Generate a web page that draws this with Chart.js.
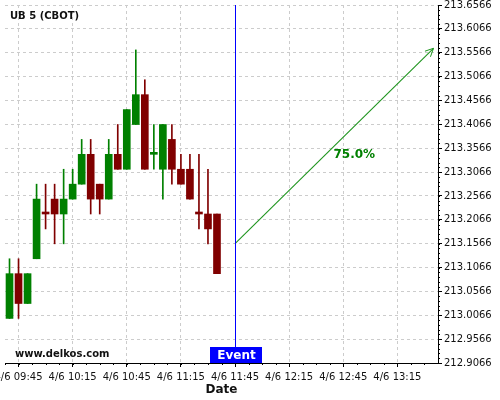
<!DOCTYPE html>
<html>
<head>
<meta charset="utf-8">
<script src="https://cdn.jsdelivr.net/npm/chart.js@4"></script>
<style>
  html, body { margin: 0; padding: 0; background: #fff; }
  #wrap { width: 500px; height: 400px; }
</style>
</head>
<body>
<div id="wrap"><canvas id="chart" width="500" height="400"></canvas></div>
<script>
// 5 min candles, 4/6
const candleTimes = ['09:40','09:45','09:50','09:55','10:00','10:05','10:10','10:15','10:20','10:25','10:30','10:35',
                     '10:40','10:45','10:50','10:55','11:00','11:05','11:10','11:15','11:20','11:25','11:30','11:35'];
const opens  = [213.0, 213.09375, 213.03125, 213.125, 213.21875, 213.25, 213.21875, 213.25, 213.28125, 213.34375, 213.28125, 213.25,
                213.34375, 213.3125, 213.40625, 213.46875, 213.34375, 213.3125, 213.375, 213.3125, 213.3125, 213.21875, 213.21875, 213.21875];
const highs  = [213.125, 213.125, 213.09375, 213.28125, 213.28125, 213.28125, 213.3125, 213.3125, 213.375, 213.375, 213.28125, 213.375,
                213.40625, 213.4375, 213.5625, 213.5, 213.40625, 213.40625, 213.40625, 213.34375, 213.34375, 213.34375, 213.3125, 213.21875];
const lows   = [213.0, 213.0, 213.03125, 213.125, 213.1875, 213.15625, 213.15625, 213.25, 213.28125, 213.21875, 213.21875, 213.25,
                213.3125, 213.3125, 213.40625, 213.3125, 213.3125, 213.25, 213.28125, 213.28125, 213.25, 213.1875, 213.15625, 213.09375];
const closes = [213.09375, 213.03125, 213.09375, 213.25, 213.21875, 213.21875, 213.25, 213.28125, 213.34375, 213.25, 213.25, 213.34375,
                213.3125, 213.4375, 213.46875, 213.3125, 213.34375, 213.40625, 213.3125, 213.28125, 213.25, 213.21875, 213.1875, 213.09375];

// projection
const eventTime = '11:45';
const arrowTimes = ['11:45', '13:35'];
const arrowPrices = [213.1566, 213.5659];
const arrowLabel = '75.0%';

// axes
const xRange = ['09:37:30', '13:37:30'];
const xTickTimes = ['09:45','10:15','10:45','11:15','11:45','12:15','12:45','13:15'];
const yTicks = [212.9066, 212.9566, 213.0066, 213.0566, 213.1066, 213.1566, 213.2066, 213.2566,
                213.3066, 213.3566, 213.4066, 213.4566, 213.5066, 213.5566, 213.6066, 213.6566];

const GREEN = '#008000';
const RED = '#800000';
const ARROW = '#1e941e';

function toMin(t) {
  const p = t.split(':').map(Number);
  return p[0] * 60 + p[1] + (p[2] || 0) / 60;
}
function fmtMin(m) {
  const h = Math.floor(m / 60), mm = Math.round(m % 60);
  return String(h).padStart(2, '0') + ':' + String(mm).padStart(2, '0');
}

const candleColors = closes.map((c, i) => {
  if (c > opens[i]) return GREEN;
  if (c < opens[i]) return RED;
  return (i > 0 && c < closes[i - 1]) ? RED : GREEN;
});

const bodies = candleTimes.map((t, i) => ({ x: toMin(t), y: [opens[i], closes[i]] }));
const wicks = candleTimes.map((t, i) => ({ x: toMin(t), y: [lows[i], highs[i]] }));
const yMin = yTicks[0], yMax = yTicks[yTicks.length - 1];

// minor ticks, event line + box, arrow head, texts
const extras = {
  id: 'extras',
  afterDraw(chart) {
    const ctx = chart.ctx;
    const xs = chart.scales.x, ys = chart.scales.y;
    const area = chart.chartArea;
    ctx.save();
    ctx.strokeStyle = '#000';
    ctx.lineWidth = 1;
    // minor ticks y
    for (let v = yMin + 0.01; v < yMax - 0.001; v += 0.01) {
      const py = Math.round(ys.getPixelForValue(v)) + 0.5;
      ctx.beginPath(); ctx.moveTo(area.right, py); ctx.lineTo(area.right + 2, py); ctx.stroke();
    }
    // minor ticks x
    for (let m = toMin(xTickTimes[0]) - 7.5; m < toMin(xRange[1]); m += 7.5) {
      if (m < toMin(xRange[0])) continue;
      const px = Math.round(xs.getPixelForValue(m)) + 0.5;
      ctx.beginPath(); ctx.moveTo(px, area.bottom); ctx.lineTo(px, area.bottom + 2); ctx.stroke();
    }

    // event line
    const ex = Math.round(xs.getPixelForValue(toMin(eventTime))) + 0.5;
    ctx.strokeStyle = '#0000ff';
    ctx.beginPath();
    ctx.moveTo(ex, ys.getPixelForValue(yMax));
    ctx.lineTo(ex, ys.getPixelForValue(yMin));
    ctx.stroke();

    // arrow head
    const x1 = xs.getPixelForValue(toMin(arrowTimes[0])), y1 = ys.getPixelForValue(arrowPrices[0]);
    const x2 = xs.getPixelForValue(toMin(arrowTimes[1])), y2 = ys.getPixelForValue(arrowPrices[1]);
    const ang = Math.atan2(y2 - y1, x2 - x1);
    ctx.strokeStyle = ARROW;
    ctx.beginPath();
    ctx.moveTo(x2 - 9 * Math.cos(ang - 0.45), y2 - 9 * Math.sin(ang - 0.45));
    ctx.lineTo(x2, y2);
    ctx.lineTo(x2 - 9 * Math.cos(ang + 0.45), y2 - 9 * Math.sin(ang + 0.45));
    ctx.stroke();

    // percent label
    ctx.fillStyle = '#008000';
    ctx.font = 'bold 12px "DejaVu Sans"';
    ctx.textAlign = 'center';
    ctx.textBaseline = 'middle';
    ctx.fillText(arrowLabel, (x1 + x2) / 2 + 20, (y1 + y2) / 2 + 9);

    // event box
    ctx.fillStyle = '#0000ff';
    ctx.fillRect(ex - 25.5, area.bottom - 16, 52, 16);
    ctx.fillStyle = '#fff';
    ctx.fillText('Event', ex + 1, area.bottom - 7.5);

    // titles
    ctx.fillStyle = '#111';
    ctx.font = 'bold 10px "DejaVu Sans"';
    ctx.textAlign = 'left';
    ctx.fillText('UB 5 (CBOT)', 10, 16);
    ctx.fillText('www.delkos.com', 15, 354);
    ctx.restore();
  }
};

new Chart(document.getElementById('chart'), {
  type: 'bar',
  data: {
    datasets: [
      {
        label: 'wicks', data: wicks, grouped: false, barThickness: 1,
        backgroundColor: candleColors, borderWidth: 0, order: 2
      },
      {
        label: 'bodies', data: bodies, grouped: false, barThickness: 7, minBarLength: 2,
        backgroundColor: candleColors, borderWidth: 0, order: 1
      },
      {
        type: 'line', label: 'arrow',
        data: arrowTimes.map((t, i) => ({ x: toMin(t), y: arrowPrices[i] })),
        borderColor: ARROW, borderWidth: 1.1, pointRadius: 0, order: 0
      }
    ]
  },
  options: {
    responsive: false,
    animation: false,
    layout: { padding: { left: 5, top: 5, right: 0, bottom: 0 } },
    plugins: { legend: { display: false }, tooltip: { enabled: false } },
    scales: {
      x: {
        type: 'linear',
        offset: false,
        min: toMin(xRange[0]), max: toMin(xRange[1]),
        afterBuildTicks: s => { s.ticks = xTickTimes.map(t => ({ value: toMin(t) })); },
        afterFit: s => { s.height = 37; s.paddingLeft = 0; s.paddingRight = 0; },
        ticks: {
          autoSkip: false, maxRotation: 0, padding: 4,
          color: '#111', font: { family: 'DejaVu Sans', size: 10 },
          callback: v => '4/6 ' + fmtMin(v)
        },
        grid: { offset: false, color: '#cccccc', tickColor: '#000', tickLength: 4 },
        border: { color: '#000', width: 1, dash: [3, 3] },
        title: { display: true, text: 'Date', color: '#111', font: { family: 'DejaVu Sans', size: 12, weight: 'bold' }, padding: { top: 2, bottom: 3 } }
      },
      y: {
        position: 'right',
        min: yMin, max: yMax,
        afterBuildTicks: s => { s.ticks = yTicks.map(v => ({ value: v })); },
        afterFit: s => { s.width = 62; s.paddingTop = 0; s.paddingBottom = 0; },
        ticks: {
          padding: 2, color: '#111', font: { family: 'DejaVu Sans', size: 10 },
          callback: v => v.toFixed(4)
        },
        grid: { color: '#cccccc', tickColor: '#000', tickLength: 4 },
        border: { color: '#000', width: 1, dash: [3, 3] }
      }
    }
  },
  plugins: [extras]
});
</script>
</body>
</html>
